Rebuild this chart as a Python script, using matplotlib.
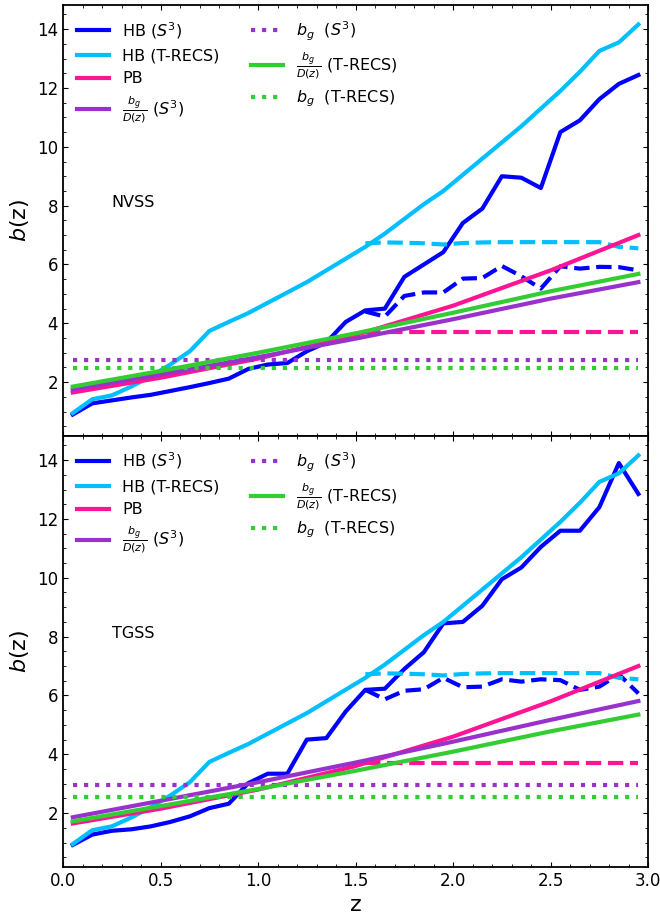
import matplotlib.pyplot as plt

# Centros de los bines en z
z = [0.05, 0.15, 0.25, 0.35, 0.45, 0.55, 0.65, 0.75, 0.85, 0.95,
     1.05, 1.15, 1.25, 1.35, 1.45, 1.55, 1.65, 1.75, 1.85, 1.95,
     2.05, 2.15, 2.25, 2.35, 2.45, 2.55, 2.65, 2.75, 2.85, 2.95]
z_alto = z[15:]  # tramo z > 1.5 (curvas a trazos)
z_suave = [0.05, 0.5, 1.0, 1.5, 2.0, 2.5, 2.95]

# HB con T-RECS (igual en los dos paneles)
hb_trecs = [0.95, 1.42, 1.55, 1.85, 2.2, 2.6, 3.05, 3.74, 4.05, 4.35,
            4.7, 5.05, 5.4, 5.8, 6.2, 6.6, 7.05, 7.55, 8.05, 8.5,
            9.05, 9.6, 10.15, 10.7, 11.3, 11.9, 12.55, 13.26, 13.55, 14.16]
hb_trecs_alto = [6.72, 6.75, 6.74, 6.72, 6.68, 6.73, 6.75, 6.76, 6.76, 6.76,
                 6.76, 6.76, 6.76, 6.6, 6.55]

# PB (igual en los dos paneles)
pb = [1.65, 2.15, 2.8, 3.6, 4.6, 5.8, 7.0]
pb_alto = [3.7] * 15

# NVSS
nvss_hb = [0.9, 1.28, 1.38, 1.48, 1.57, 1.7, 1.83, 1.97, 2.12, 2.45,
           2.6, 2.65, 3.05, 3.35, 4.05, 4.44, 4.5, 5.58, 6.0, 6.42,
           7.41, 7.9, 9.0, 8.95, 8.6, 10.5, 10.9, 11.62, 12.14, 12.44]
nvss_hb_alto = [4.4, 4.23, 4.93, 5.05, 5.05, 5.52, 5.54, 5.95, 5.6, 5.18,
                5.94, 5.86, 5.92, 5.91, 5.8]
nvss_bgD_s3 = [1.76, 2.26, 2.85, 3.48, 4.14, 4.84, 5.40]
nvss_bgD_trecs = [1.85, 2.38, 3.0, 3.66, 4.36, 5.09, 5.68]
nvss_bg_s3 = 2.77
nvss_bg_trecs = 2.49

# TGSS
tgss_hb = [0.92, 1.27, 1.4, 1.45, 1.55, 1.7, 1.89, 2.17, 2.32, 3.02,
           3.34, 3.34, 4.5, 4.55, 5.46, 6.19, 6.23, 6.9, 7.47, 8.45,
           8.5, 9.05, 9.95, 10.35, 11.05, 11.6, 11.6, 12.4, 13.9, 12.85]
tgss_hb_alto = [6.19, 5.87, 6.16, 6.21, 6.6, 6.28, 6.3, 6.55, 6.47, 6.55,
                6.52, 6.19, 6.3, 6.72, 6.07]
tgss_bgD_s3 = [1.86, 2.42, 3.05, 3.72, 4.43, 5.17, 5.81]
tgss_bgD_trecs = [1.72, 2.24, 2.82, 3.44, 4.09, 4.78, 5.35]
tgss_bg_s3 = 2.95
tgss_bg_trecs = 2.55

paneles = [
    ("NVSS", nvss_hb, nvss_hb_alto, nvss_bgD_s3, nvss_bg_s3, nvss_bgD_trecs, nvss_bg_trecs),
    ("TGSS", tgss_hb, tgss_hb_alto, tgss_bgD_s3, tgss_bg_s3, tgss_bgD_trecs, tgss_bg_trecs),
]

fig, axs = plt.subplots(2, 1, figsize=(6.6, 9.15), dpi=100, sharex=True)
fig.subplots_adjust(left=0.0955, right=0.982, top=0.9945, bottom=0.0525, hspace=0)

lw = 3
for ax, (nombre, hb, hb_alto, bgD_s3, bg_s3, bgD_trecs, bg_trecs) in zip(axs, paneles):
    ax.plot(z, hb, color="blue", lw=lw, label=r"HB ($S^3$)")
    ax.plot(z_alto, hb_alto, color="blue", lw=lw, ls="--")
    ax.plot(z, hb_trecs, color="deepskyblue", lw=lw, label="HB (T-RECS)")
    ax.plot(z_alto, hb_trecs_alto, color="deepskyblue", lw=lw, ls="--")
    ax.plot(z_suave, pb, color="deeppink", lw=lw, label="PB")
    ax.plot(z_alto, pb_alto, color="deeppink", lw=lw, ls="--")
    ax.plot(z_suave, bgD_s3, color="darkorchid", lw=lw, label=r"$\frac{b_g}{D(z)}$ ($S^3$)")
    ax.plot([z[0], z[-1]], [bg_s3, bg_s3], color="darkorchid", lw=lw, ls=":", label=r"$b_g$  ($S^3$)")
    ax.plot(z_suave, bgD_trecs, color="limegreen", lw=lw, label=r"$\frac{b_g}{D(z)}$ (T-RECS)")
    ax.plot([z[0], z[-1]], [bg_trecs, bg_trecs], color="limegreen", lw=lw, ls=":", label=r"$b_g$  (T-RECS)")

    ax.text(0.25, 8.1, nombre, fontsize=11.5, va="center")
    ax.set_ylabel(r"$b$(z)", fontsize=16)
    ax.set_xlim(0, 3.0)
    ax.set_ylim(0.17, 14.82)
    ax.set_yticks([2, 4, 6, 8, 10, 12, 14])
    ax.set_xticks([0.0, 0.5, 1.0, 1.5, 2.0, 2.5, 3.0])
    ax.minorticks_on()
    ax.xaxis.set_minor_locator(plt.MultipleLocator(0.1))
    ax.yaxis.set_minor_locator(plt.MultipleLocator(0.5))
    ax.tick_params(which="both", direction="in", top=True, right=True, labelsize=12)
    for s in ax.spines.values():
        s.set_linewidth(1.3)
    ax.legend(loc="upper left", ncol=2, frameon=False, fontsize=11.5)

axs[1].set_xlabel("z", fontsize=16)

plt.savefig("out.png", dpi=100)
